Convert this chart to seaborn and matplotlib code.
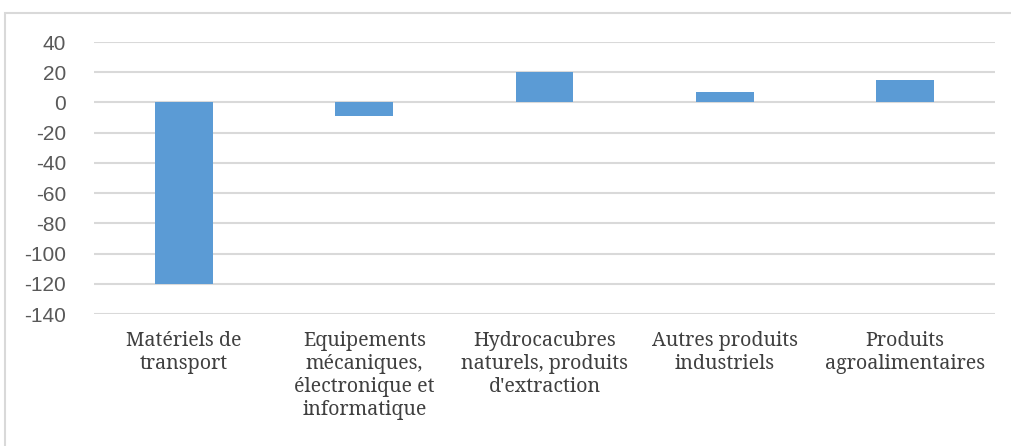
import pandas as pd
import matplotlib.pyplot as plt
import seaborn as sns
from matplotlib.patches import Rectangle

sns.set_theme(style="white")

# Data
categories = [
    "Matériels de\ntransport",
    "Equipements\nmécaniques,\nélectronique et\ninformatique",
    "Hydrocacubres\nnaturels, produits\nd'extraction",
    "Autres produits\nindustriels",
    "Produits\nagroalimentaires",
]
values = [-120, -9, 20, 7, 15]
yticks = [40, 20, 0, -20, -40, -60, -80, -100, -120, -140]

df = pd.DataFrame({"cat": categories, "val": values})

fig = plt.figure(figsize=(10.11, 4.46), dpi=100)
ax = fig.add_axes([94 / 1011, 1 - 314 / 446, (995 - 94) / 1011, (314 - 42) / 446])

# Outer chart border (runs off the bottom and right edges)
fig.patches.append(Rectangle((5 / 1011, -0.1), 1.1, 1.1 - 13 / 446, transform=fig.transFigure,
                             fill=False, edgecolor="#D9D9D9", linewidth=1.5))

sns.barplot(data=df, x="cat", y="val", color="#5B9BD5", saturation=1, width=0.32,
            linewidth=0, ax=ax, zorder=3)

ax.set_ylim(-140, 40)
ax.set_yticks(yticks)
ax.set_yticklabels([str(t) for t in yticks], family="Liberation Sans", fontsize=15, color="#595959")
ax.set_xticks(range(len(categories)))
ax.set_xticklabels(categories, family=["Tinos", "Noto Serif", "Liberation Serif", "DejaVu Serif"],
                   fontsize=14.1, color="#404040", linespacing=1.2)
ax.tick_params(axis="y", length=0, pad=20)
ax.tick_params(axis="x", length=0, pad=12)
ax.yaxis.grid(True, color="#D9D9D9", linewidth=1.5, zorder=0)
ax.set_axisbelow(True)
for s in ax.spines.values():
    s.set_visible(False)
ax.set_xlabel("")
ax.set_ylabel("")

plt.savefig("out.png", dpi=100)
